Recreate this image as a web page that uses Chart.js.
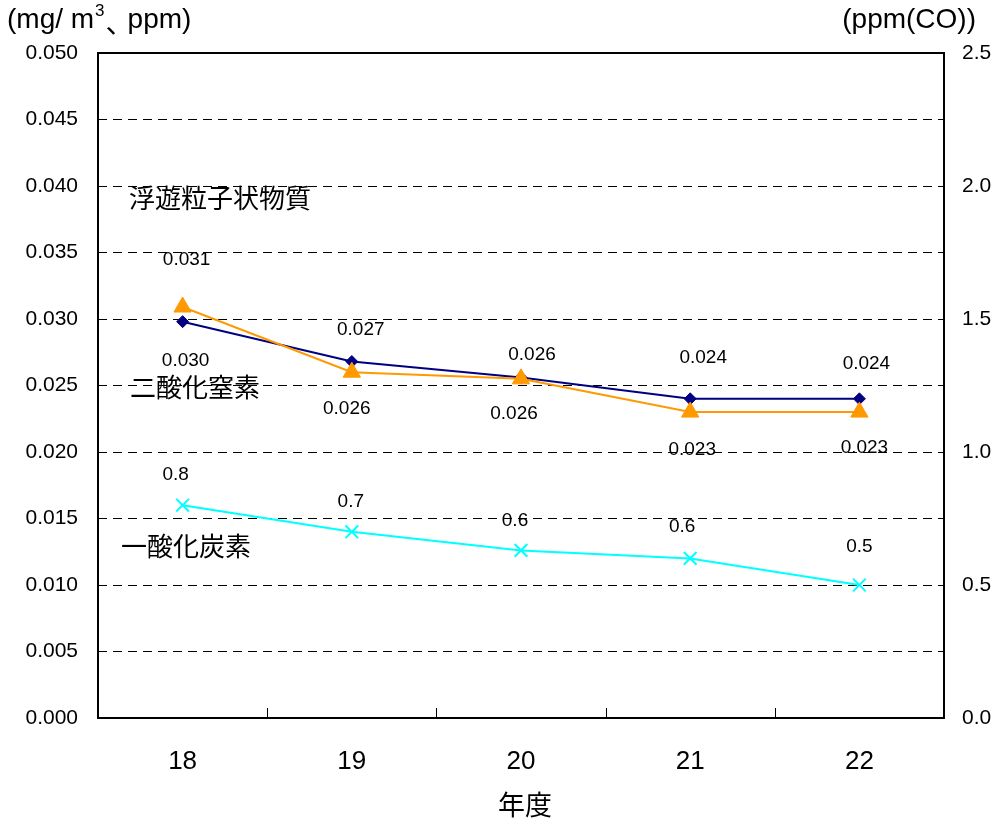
<!DOCTYPE html>
<html>
<head>
<meta charset="utf-8">
<script src="https://cdn.jsdelivr.net/npm/chart.js@4.4.0/dist/chart.umd.min.js"></script>
<style>
  body { margin: 0; background: #fff; }
</style>
</head>
<body>
<canvas id="chart" width="997" height="825"></canvas>
<script>
// categories (年度)
const years = ['18', '19', '20', '21', '22'];

// values
const spm = [0.0298, 0.0268, 0.0256, 0.0240, 0.0240];  // 浮遊粒子状物質, navy, left axis
const no2 = [0.0309, 0.0260, 0.0255, 0.0230, 0.0230];  // 二酸化窒素, orange, left axis
const co = [0.80, 0.70, 0.63, 0.60, 0.50];             // 一酸化炭素, cyan, right axis

// value labels printed next to the points
const spmLabels = ['0.030', '0.027', '0.026', '0.024', '0.024'];
const no2Labels = ['0.031', '0.026', '0.026', '0.023', '0.023'];
const coLabels = ['0.8', '0.7', '0.6', '0.6', '0.5'];

// tick labels
const leftTicks = ['0.000', '0.005', '0.010', '0.015', '0.020', '0.025', '0.030', '0.035', '0.040', '0.045', '0.050'];
const rightTicks = ['0.0', '0.5', '1.0', '1.5', '2.0', '2.5'];

// where each value label sits relative to its point (dx, dy in px)
const spmLabelPos = [[3, 39], [9, -32], [11, -23], [13, -41], [7, -35]];
const no2LabelPos = [[4, -47], [-5, 37], [-7, 35], [2, 38], [5, 36]];
const coLabelPos = [[-7, -30], [-1, -30], [-6, -30], [-8, -32], [0, -38]];

const NUM_FONT = '"Liberation Sans", Arial, sans-serif';
const JP_FONT = '"Noto Sans CJK JP", "Liberation Sans", sans-serif';

// frame, inner x ticks, value labels, series names and axis titles
const decorations = {
  id: 'decorations',
  afterDatasetsDraw(chart) {
    const ctx = chart.ctx;
    const area = chart.chartArea;
    const x = chart.scales.x;

    ctx.save();
    // plot frame
    ctx.strokeStyle = '#000';
    ctx.lineWidth = 2;
    ctx.strokeRect(area.left, area.top, area.right - area.left, area.bottom - area.top);

    // small tick marks pointing up at category borders
    ctx.lineWidth = 1;
    const step = x.getPixelForValue(1) - x.getPixelForValue(0);
    for (let i = 1; i < years.length; i++) {
      const px = Math.round(x.getPixelForValue(i) - step / 2) + 0.5;
      ctx.beginPath();
      ctx.moveTo(px, area.bottom);
      ctx.lineTo(px, area.bottom - 10);
      ctx.stroke();
    }

    // value labels
    ctx.fillStyle = '#000';
    ctx.font = '19px ' + NUM_FONT;
    ctx.textAlign = 'center';
    ctx.textBaseline = 'middle';
    const groups = [[no2Labels, no2LabelPos], [spmLabels, spmLabelPos], [coLabels, coLabelPos]];
    groups.forEach(([labels, pos], di) => {
      const pts = chart.getDatasetMeta(di).data;
      pts.forEach((p, i) => {
        ctx.fillText(labels[i], p.x + pos[i][0], p.y + pos[i][1]);
      });
    });

    // series names
    ctx.font = '26px ' + JP_FONT;
    ctx.textAlign = 'left';
    ctx.fillText('浮遊粒子状物質', 129, 198);
    ctx.fillText('二酸化窒素', 130, 387);
    ctx.fillText('一酸化炭素', 121, 546);

    // axis titles
    ctx.font = '28px ' + NUM_FONT;
    let tx = 7;
    const ty = 20;
    ctx.fillText('(mg/ m', tx, ty);
    tx += ctx.measureText('(mg/ m').width;
    ctx.font = '17px ' + NUM_FONT;
    ctx.fillText('3', tx + 1, ty - 9);
    tx += ctx.measureText('3').width + 2;
    ctx.font = '28px ' + JP_FONT;
    ctx.fillText('、', tx, ty + 2);
    tx += 22;
    ctx.font = '28px ' + NUM_FONT;
    ctx.fillText('ppm)', tx, ty);

    ctx.textAlign = 'right';
    ctx.fillText('(ppm(CO))', 976, ty);

    ctx.textAlign = 'center';
    ctx.font = '27px ' + JP_FONT;
    ctx.fillText('年度', 525, 805);
    ctx.restore();
  }
};

new Chart(document.getElementById('chart'), {
  type: 'line',
  data: {
    labels: years,
    datasets: [
      {
        label: '二酸化窒素',
        data: no2,
        yAxisID: 'y',
        borderColor: '#FF9900',
        backgroundColor: '#FF9900',
        borderWidth: 2,
        pointStyle: 'triangle',
        pointRadius: 10,
        pointBorderWidth: 1
      },
      {
        label: '浮遊粒子状物質',
        data: spm,
        yAxisID: 'y',
        borderColor: '#000080',
        backgroundColor: '#000080',
        borderWidth: 2,
        pointStyle: 'rectRot',
        pointRadius: 6,
        pointBorderWidth: 1
      },
      {
        label: '一酸化炭素',
        data: co,
        yAxisID: 'y1',
        borderColor: '#00FFFF',
        backgroundColor: '#00FFFF',
        borderWidth: 2,
        pointStyle: 'crossRot',
        pointRadius: 9,
        pointBorderWidth: 2
      }
    ]
  },
  options: {
    responsive: false,
    animation: false,
    layout: { padding: { top: 53, left: 0, right: 0, bottom: 0 } },
    plugins: {
      legend: { display: false },
      tooltip: { enabled: false }
    },
    scales: {
      x: {
        offset: true,
        grid: { display: false, drawTicks: false },
        border: { display: false },
        ticks: {
          color: '#000',
          padding: 28,
          font: { family: NUM_FONT, size: 26 }
        },
        afterFit(scale) { scale.height = 107; }
      },
      y: {
        position: 'left',
        min: 0,
        max: 0.05,
        grid: { color: '#000', lineWidth: 1, drawTicks: false },
        border: { display: false, dash: [9, 6] },
        ticks: {
          stepSize: 0.005,
          color: '#000',
          padding: 20,
          font: { family: NUM_FONT, size: 21 },
          callback: (v, i) => leftTicks[i]
        },
        afterFit(scale) { scale.width = 98; }
      },
      y1: {
        position: 'right',
        min: 0,
        max: 2.5,
        grid: { display: false, drawTicks: false },
        border: { display: false },
        ticks: {
          stepSize: 0.5,
          color: '#000',
          padding: 18,
          font: { family: NUM_FONT, size: 21 },
          callback: (v, i) => rightTicks[i]
        },
        afterFit(scale) { scale.width = 53; }
      }
    }
  },
  plugins: [decorations]
});
</script>
</body>
</html>
